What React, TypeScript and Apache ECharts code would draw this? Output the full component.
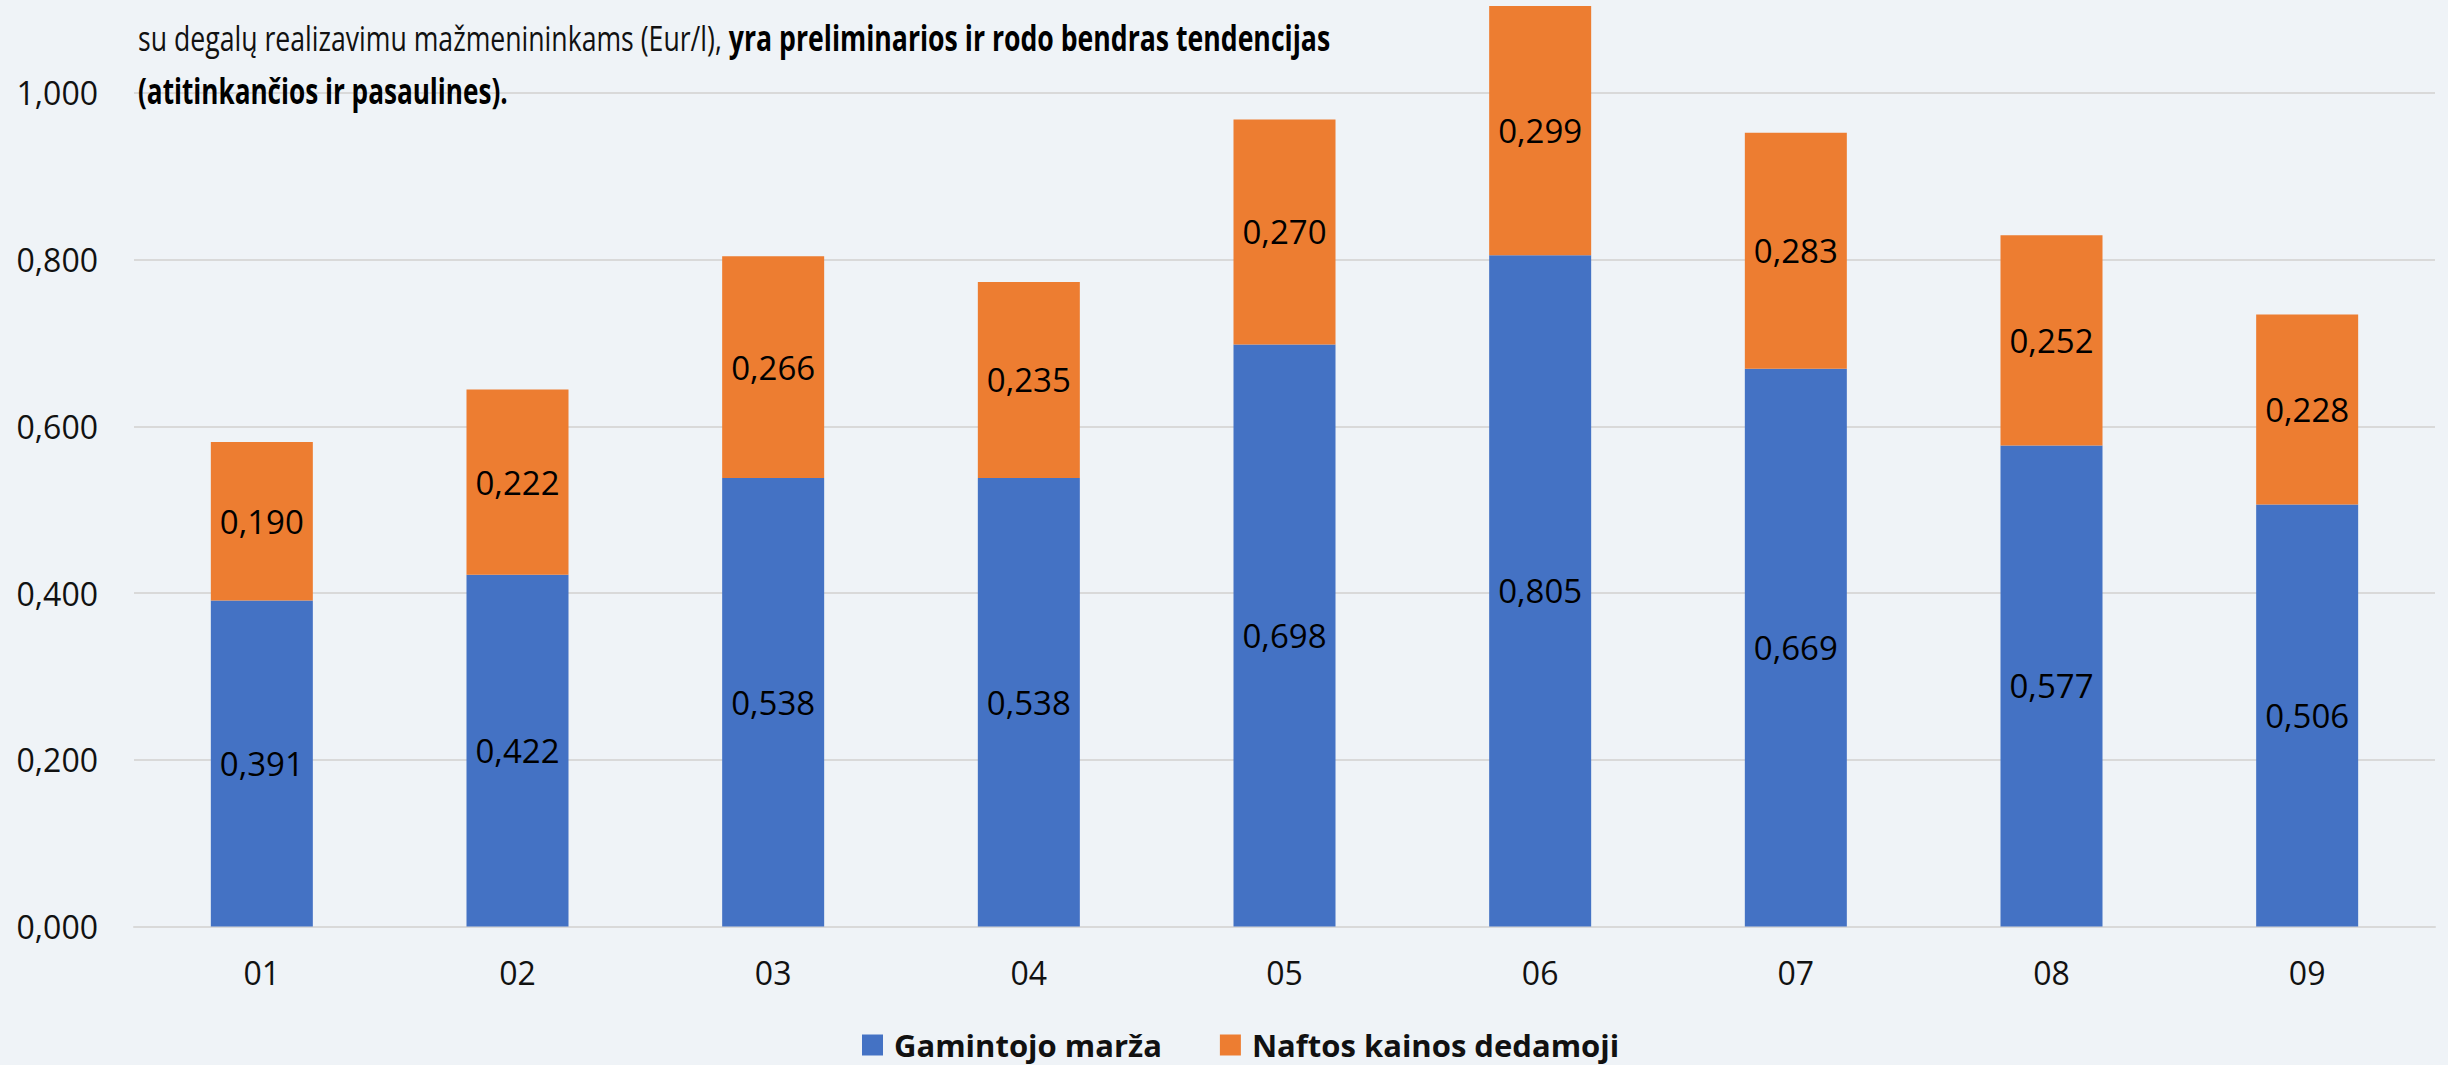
import React, { useEffect, useRef } from "react";
import * as echarts from "echarts";

const categories = ["01", "02", "03", "04", "05", "06", "07", "08", "09"];
const seriesNames = ["Gamintojo marža", "Naftos kainos dedamoji"];
const marginValues = [0.391, 0.422, 0.538, 0.538, 0.698, 0.805, 0.669, 0.577, 0.506];
const oilValues = [0.19, 0.222, 0.266, 0.235, 0.27, 0.299, 0.283, 0.252, 0.228];
const titleLine2Regular = "su degalų realizavimu mažmenininkams (Eur/l), ";
const titleLine2Bold = "yra preliminarios ir rodo bendras tendencijas";
const titleLine3Bold = "(atitinkančios ir pasaulines).";

const FONT = "'Open Sans', 'Noto Sans', sans-serif";
const fmt = (v: number) => v.toFixed(3).replace(".", ",");
const OFFSET = 74.5; // part of the chart above the visible page

function measure(text: string, font: string): number {
  const c = document.createElement("canvas");
  const ctx = c.getContext("2d");
  if (!ctx) return text.length * 15;
  ctx.font = font;
  return ctx.measureText(text).width;
}

export default function App() {
  const ref = useRef<HTMLDivElement>(null);
  useEffect(() => {
    document.body.style.margin = "0";
    document.body.style.overflow = "hidden";
    document.body.style.background = "#EFF3F7";
    if (!ref.current) return;
    const chart = echarts.init(ref.current, undefined, { renderer: "svg" });
    const tSize = 35;
    const w2 =
      measure(titleLine2Regular, `${tSize}px 'Open Sans'`) +
      measure(titleLine2Bold, `bold ${tSize}px 'Open Sans'`);
    const w3 = measure(titleLine3Bold, `bold ${tSize}px 'Open Sans'`);
    const s2 = 1192 / w2;
    const s3 = 370 / w3;
    const labelStyle = {
      show: true,
      position: "inside" as const,
      formatter: (p: any) => fmt(p.value),
      color: "#000",
      fontSize: 33,
      fontFamily: FONT,
    };
    chart.setOption({
      animation: false,
      backgroundColor: "#EFF3F7",
      grid: {
        left: 134,
        right: 13,
        top: 0,
        bottom: 139.5,
        containLabel: false,
        outerBoundsMode: "none",
      },
      xAxis: {
        type: "category",
        data: categories,
        axisLine: { show: true, lineStyle: { color: "#D9D9D9", width: 2 } },
        axisTick: { show: false },
        axisLabel: { color: "#111", fontSize: 32, fontFamily: FONT, margin: 30 },
      },
      yAxis: {
        type: "value",
        min: 0,
        max: 1.2,
        interval: 0.2,
        axisLine: { show: false },
        axisTick: { show: false },
        splitLine: { lineStyle: { color: "#D9D9D9", width: 2 } },
        axisLabel: {
          color: "#111",
          fontSize: 32,
          fontFamily: FONT,
          margin: 36,
          showMaxLabel: false,
          formatter: (v: number) => fmt(v),
        },
      },
      legend: {
        data: seriesNames,
        left: 857,
        top: 1024 + OFFSET,
        icon: "rect",
        itemWidth: 21,
        itemHeight: 21,
        itemGap: 58,
        textStyle: {
          color: "#111",
          fontSize: 31,
          fontWeight: "bold",
          fontFamily: FONT,
          padding: [0, 0, 0, 6],
        },
      },
      series: [
        {
          name: seriesNames[0],
          type: "bar",
          stack: "total",
          data: marginValues,
          barWidth: 102,
          itemStyle: { color: "#4472C4" },
          label: labelStyle,
        },
        {
          name: seriesNames[1],
          type: "bar",
          stack: "total",
          data: oilValues,
          barWidth: 102,
          itemStyle: { color: "#ED7D31" },
          label: labelStyle,
        },
      ],
      graphic: [
        {
          type: "text",
          x: 138,
          y: 37 + OFFSET,
          scaleX: s2,
          z: 100,
          style: {
            text: `{r|${titleLine2Regular}}{b|${titleLine2Bold}}`,
            verticalAlign: "middle",
            rich: {
              r: { fontSize: tSize, fontFamily: FONT, fill: "#111" },
              b: { fontSize: tSize, fontFamily: FONT, fontWeight: "bold", fill: "#000" },
            },
          },
        },
        {
          type: "text",
          x: 138,
          y: 90 + OFFSET,
          scaleX: s3,
          z: 100,
          style: {
            text: titleLine3Bold,
            verticalAlign: "middle",
            fontSize: tSize,
            fontFamily: FONT,
            fontWeight: "bold",
            fill: "#000",
          },
        },
      ],
    });
    return () => chart.dispose();
  }, []);
  return (
    <div
      ref={ref}
      style={{
        position: "fixed",
        left: 0,
        top: -OFFSET,
        width: 2448,
        height: 1065 + OFFSET,
      }}
    />
  );
}
